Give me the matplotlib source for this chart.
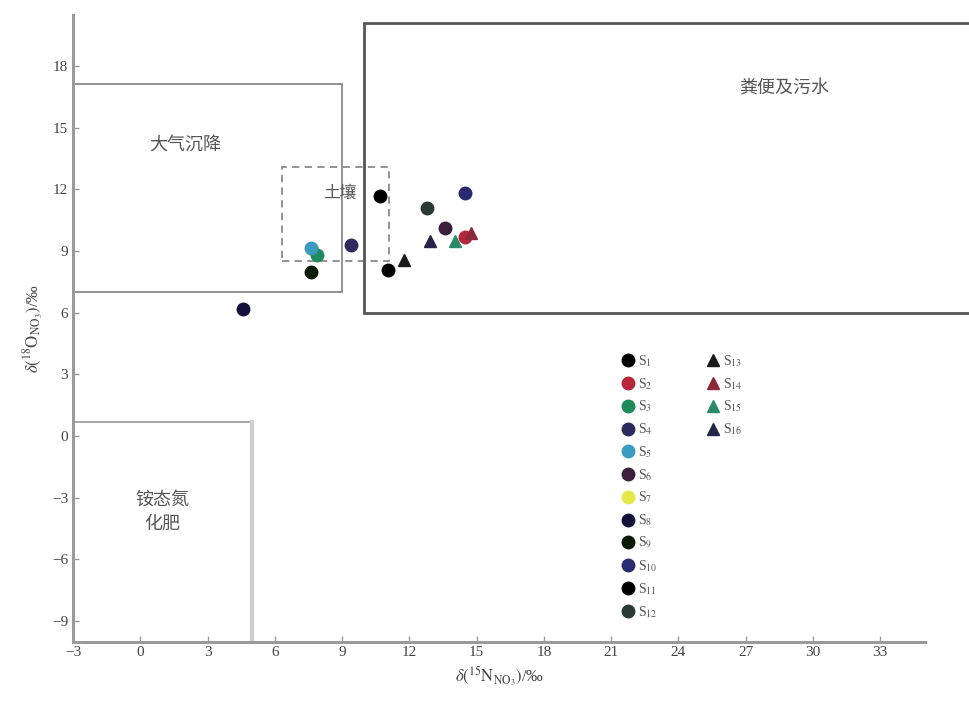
import matplotlib
matplotlib.use("Agg")
import matplotlib.pyplot as plt
from matplotlib.patches import Rectangle
from matplotlib.lines import Line2D

plt.rcParams['font.family'] = ['Liberation Serif', 'Noto Sans CJK SC', 'DejaVu Sans']
plt.rcParams['mathtext.fontset'] = 'stix'

# ---- data ----
circle_labels = ['S$_{1}$', 'S$_{2}$', 'S$_{3}$', 'S$_{4}$', 'S$_{5}$', 'S$_{6}$',
                 'S$_{7}$', 'S$_{8}$', 'S$_{9}$', 'S$_{10}$', 'S$_{11}$', 'S$_{12}$']
circle_colors = ['#000000', '#b5283a', '#1f8a5c', '#2e2a5e', '#3a9ac0', '#3a1f3a',
                 '#e6e84a', '#14103a', '#0a1a05', '#2a2a70', '#000000', '#2a3a35']
circle_x = [10.7, 14.5, 7.9, 9.4, 7.6, 13.6, 7.65, 4.6, 7.6, 14.5, 11.05, 12.8]
circle_y = [11.7, 9.7, 8.8, 9.3, 9.15, 10.1, 9.1, 6.2, 8.0, 11.8, 8.1, 11.1]
circle_z = [3, 3, 3, 3, 3, 3, 2, 3, 3, 3, 3, 3]

tri_labels = ['S$_{13}$', 'S$_{14}$', 'S$_{15}$', 'S$_{16}$']
tri_colors = ['#1a1a1a', '#8a2a3a', '#2a8a6a', '#25254a']
tri_x = [11.76, 14.75, 14.04, 12.92]
tri_y = [8.56, 9.88, 9.49, 9.49]

xticks = [-3, 0, 3, 6, 9, 12, 15, 18, 21, 24, 27, 30, 33]
yticks = [-9, -6, -3, 0, 3, 6, 9, 12, 15, 18]

# source boxes: (label, x0, y0, width, height)
box_atm = ('大气沉降', -3, 7.0, 12.0, 10.1)
box_soil = ('土壤', 6.3, 8.5, 4.8, 4.6)
box_manure = ('粪便及污水', 10.0, 6.0, 27.0, 14.1)
box_fert = ('铵态氮\n化肥', -3, -10.0, 8.0, 10.7)

fig = plt.figure(figsize=(9.7, 7.09), dpi=100)
ax = fig.add_axes([0.0753, 0.0951, 0.8783, 0.8843])
ax.set_xlim(-3, 35)
ax.set_ylim(-10, 20.5)

spine_c = '#9a9a9a'
for s in ['top', 'right']:
    ax.spines[s].set_visible(False)
for s in ['left', 'bottom']:
    ax.spines[s].set_color(spine_c)
    ax.spines[s].set_linewidth(2.2)
ax.set_xticks(xticks)
ax.set_yticks(yticks)
ax.tick_params(direction='in', length=4, width=1, color=spine_c,
               labelsize=11, labelcolor='#444444')

# boxes
ax.add_patch(Rectangle((box_atm[1], box_atm[2]), box_atm[3], box_atm[4],
                       fill=False, ec='#8a8a8a', lw=1.3))
ax.add_patch(Rectangle((box_soil[1], box_soil[2]), box_soil[3], box_soil[4],
                       fill=False, ec='#8a8a8a', lw=1.3, ls=(0, (4, 3))))
ax.add_patch(Rectangle((box_manure[1], box_manure[2]), box_manure[3], box_manure[4],
                       fill=False, ec='#555555', lw=2.0, clip_on=False))
ax.add_patch(Rectangle((box_fert[1], box_fert[2]), box_fert[3], box_fert[4],
                       fill=False, ec='#9a9a9a', lw=1.2))
ax.plot([box_fert[1] + box_fert[3]] * 2, [box_fert[2], box_fert[2] + box_fert[4]],
        color='#cfcfcf', lw=3)

tc = '#555555'
ax.text(2.0, 14.15, box_atm[0], ha='center', va='center', fontsize=13, color=tc)
ax.text(8.9, 11.8, box_soil[0], ha='center', va='center', fontsize=12, color=tc)
ax.text(28.7, 16.9, box_manure[0], ha='center', va='center', fontsize=13, color=tc)
ax.text(1.0, -3.7, box_fert[0], ha='center', va='center', fontsize=13, color=tc,
        linespacing=1.5)

# points
for x, y, c, z in zip(circle_x, circle_y, circle_colors, circle_z):
    ax.plot(x, y, 'o', ms=9, color=c, mec=c, zorder=z)
for x, y, c in zip(tri_x, tri_y, tri_colors):
    ax.plot(x, y, '^', ms=9, color=c, mec=c, zorder=4)

h1 = [Line2D([], [], ls='', marker='o', ms=9, color=c) for c in circle_colors]
h2 = [Line2D([], [], ls='', marker='^', ms=9, color=c) for c in tri_colors]
leg1 = ax.legend(h1, circle_labels, loc='upper left', bbox_to_anchor=(0.645, 0.46),
                 frameon=False, fontsize=10, handlelength=0.8, handletextpad=0.3,
                 labelspacing=0.5, borderpad=0, borderaxespad=0)
for t in leg1.get_texts():
    t.set_color('#555555')
ax.add_artist(leg1)
leg2 = ax.legend(h2, tri_labels, loc='upper left', bbox_to_anchor=(0.745, 0.46),
                 frameon=False, fontsize=10, handlelength=0.8, handletextpad=0.3,
                 labelspacing=0.5, borderpad=0, borderaxespad=0)
for t in leg2.get_texts():
    t.set_color('#555555')

ax.set_xlabel(r'$\delta(^{15}\mathrm{N}_{\mathrm{NO_3}})$/‰', fontsize=12, color='#444444',
              labelpad=4)
ax.set_ylabel(r'$\delta(^{18}\mathrm{O}_{\mathrm{NO_3}})$/‰', fontsize=12, color='#444444',
              labelpad=4)

fig.savefig('out.png', dpi=100)
